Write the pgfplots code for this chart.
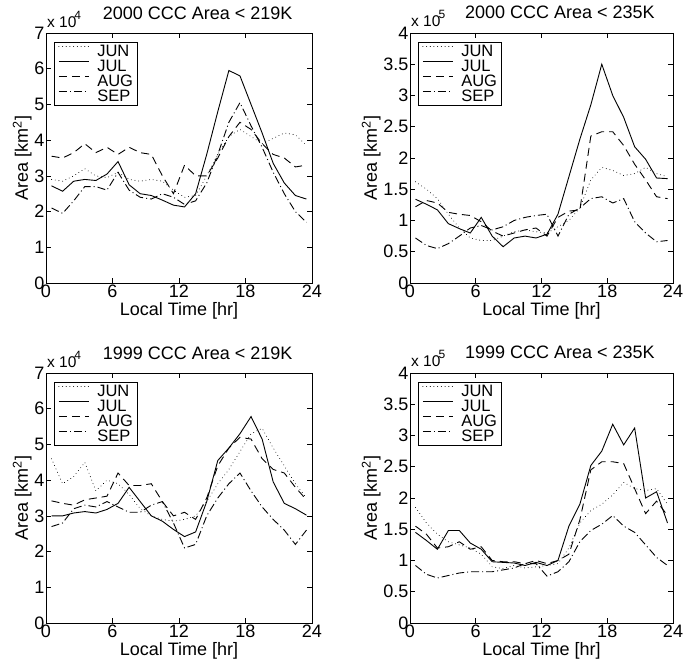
\documentclass[border=0pt]{standalone}
\usepackage{fontspec}
\setmainfont{Liberation Sans}
\usepackage{pgfplots}
\usepackage{pgfplotstable}
\pgfplotsset{compat=1.18}

\newcommand\fs{\fontsize{18}{19}\selectfont}
\newcommand\fl{\fontsize{16.5}{15}\selectfont}
\newcommand\fe{\fontsize{15.5}{15}\selectfont}

% 2000, area < 219K (x 10^4 km^2)
\pgfplotstableread{
t    jun  jul  aug  sep
0.5  2.9  2.72 3.55 2.1
1.5  2.85 2.57 3.5  1.95
2.5  3.0  2.85 3.65 2.3
3.5  3.2  2.9  3.9  2.7
4.5  3.0  2.87 3.65 2.7
5.5  2.95 3.05 3.8  2.6
6.5  3.1  3.4  3.6  3.1
7.5  2.9  2.75 3.8  2.6
8.5  2.85 2.5  3.65 2.4
9.5  2.9  2.45 3.6  2.35
10.5 2.85 2.32 3.0  2.5
11.5 2.6  2.18 2.5  2.4
12.5 2.4  2.13 3.3  2.2
13.5 2.45 2.5  3.0  2.3
14.5 3.0  3.6  3.0  2.8
15.5 3.6  4.8  3.5  3.6
16.5 4.1  5.95 4.1  4.5
17.5 4.3  5.8  4.5  5.05
18.5 4.1  5.0  4.3  4.4
19.5 3.9  4.2  3.9  3.8
20.5 4.05 3.35 3.6  3.1
21.5 4.2  2.8  3.5  2.5
22.5 4.15 2.45 3.25 2.0
23.5 3.85 2.35 3.3  1.7
}\tl

% 2000, area < 235K (x 10^5 km^2)
\pgfplotstableread{
t    jun  jul  aug  sep
0.5  1.62 1.34 1.22 0.72
1.5  1.5  1.26 1.32 0.6
2.5  1.35 1.17 1.28 0.55
3.5  1.1  0.95 1.13 0.63
4.5  0.88 0.87 1.1  0.75
5.5  0.72 0.8  1.08 0.88
6.5  0.68 1.05 0.98 0.92
7.5  0.68 0.75 0.83 0.85
8.5  0.75 0.58 0.75 0.9
9.5  0.82 0.72 0.8  1.0
10.5 0.85 0.75 0.85 1.05
11.5 0.82 0.72 0.88 1.08
12.5 0.8  0.78 0.75 1.1
13.5 0.9  1.1  1.05 0.75
14.5 1.0  1.7  1.15 1.1
15.5 1.2  2.3  1.17 1.2
16.5 1.65 2.85 2.35 1.35
17.5 1.85 3.5  2.42 1.38
18.5 1.8  3.0  2.42 1.28
19.5 1.72 2.65 2.2  1.35
20.5 1.75 2.18 1.9  0.98
21.5 1.85 1.98 1.65 0.8
22.5 1.75 1.68 1.38 0.66
23.5 1.7  1.67 1.35 0.68
}\tr

% 1999, area < 219K (x 10^4 km^2)
\pgfplotstableread{
t    jun  jul  aug  sep
0.5  4.6  3.0  3.42 2.7
1.5  3.9  3.0  3.35 2.8
2.5  4.1  3.08 3.3  3.2
3.5  4.5  3.12 3.45 3.3
4.5  3.7  3.08 3.5  3.25
5.5  4.0  3.18 3.55 3.4
6.5  3.9  3.35 4.2  3.25
7.5  3.6  3.8  3.85 3.1
8.5  3.2  3.4  3.85 3.1
9.5  3.0  3.0  3.9  3.3
10.5 2.9  2.85 3.4  3.4
11.5 2.85 2.62 3.0  2.8
12.5 2.9  2.42 3.1  2.1
13.5 3.0  2.55 2.9  2.2
14.5 3.4  3.4  3.5  3.0
15.5 3.9  4.55 4.4  3.5
16.5 4.3  4.9  4.9  3.9
17.5 4.8  5.3  5.2  4.2
18.5 5.3  5.78 5.15 3.7
19.5 5.45 5.15 4.6  3.25
20.5 4.9  3.95 4.3  2.9
21.5 4.4  3.35 4.2  2.6
22.5 3.9  3.2  3.8  2.2
23.5 3.5  3.02 3.45 2.6
}\bl

% 1999, area < 235K (x 10^5 km^2)
\pgfplotstableread{
t    jun  jul  aug  sep
0.5  1.85 1.45 1.55 0.92
1.5  1.6  1.32 1.42 0.78
2.5  1.42 1.18 1.2  0.72
3.5  1.3  1.48 1.22 0.76
4.5  1.25 1.48 1.3  0.8
5.5  1.2  1.28 1.18 0.82
6.5  1.1  1.18 1.22 0.82
7.5  0.9  0.98 1.0  0.82
8.5  0.87 0.97 0.98 0.85
9.5  0.92 0.96 0.98 0.88
10.5 0.88 0.92 0.95 0.95
11.5 0.9  0.97 1.0  0.95
12.5 0.92 0.92 0.95 0.75
13.5 0.95 1.0  1.0  0.82
14.5 1.2  1.55 1.1  0.98
15.5 1.6  1.9  1.65 1.3
16.5 1.8  2.52 2.45 1.48
17.5 1.9  2.75 2.58 1.58
18.5 2.05 3.18 2.58 1.72
19.5 2.25 2.85 2.55 1.55
20.5 2.15 3.12 2.15 1.45
21.5 2.12 2.0  1.75 1.25
22.5 2.15 2.1  1.95 1.05
23.5 1.9  1.6  1.72 0.92
}\br

\pgfplotsset{
  jun/.style={black, line width=0.9pt, line cap=round, dash pattern=on 0.1pt off 3.6pt},
  jul/.style={black, line width=0.9pt, solid},
  aug/.style={black, line width=0.9pt, dash pattern=on 8pt off 5pt},
  sep/.style={black, line width=0.9pt, dash pattern=on 8pt off 3pt on 1pt off 3pt},
  expo/.style={after end axis/.code={
    \node[anchor=base west, inner sep=0pt, font=\fe, xshift=1pt, yshift=6pt]
      at (rel axis cs:0,1) {x 10\kern-2pt\raisebox{8pt}{\fontsize{12}{12}\selectfont #1}};}},
  ccc/.style={
    anchor=south west, scale only axis, height=250pt,
    xmin=0, xmax=24, ymin=0, xtick={0,6,12,18,24},
    axis line style={line width=0.9pt},
    every tick/.style={black, line width=0.6pt},
    major tick length=5pt,
    tick label style={font=\fs},
    xticklabel style={inner sep=2pt},
    yticklabel style={inner sep=1.5pt},
    /pgf/number format/assume math mode=true,
    xlabel={Local Time [hr]}, ylabel={Area [km\textsuperscript{2}]},
    label style={font=\fs},
    xlabel style={inner sep=0pt, yshift=-2.5pt},
    ylabel style={inner sep=1pt},
    title style={font=\fs, at={(0.57,1)}, anchor=base, yshift=8pt, inner sep=0pt},
    legend style={at={(0,1)}, anchor=north west, xshift=8pt, yshift=-9pt,
      draw=black, line width=0.7pt, font=\fl, inner xsep=4pt, inner ysep=3pt,
      row sep=3pt, column sep=8pt,
      nodes={inner sep=0pt, text height=11.5pt, text depth=0.5pt},
      cells={anchor=west}},
    legend image code/.code={\draw[#1] (0pt,5pt) -- (30pt,5pt);},
  },
}

\begin{document}
\begin{tikzpicture}
\begin{axis}[ccc, at={(46pt,379pt)}, width=266pt, ymax=7, ytick={0,1,...,7},
  title={2000 CCC Area < 219K}, expo=4]
  \addplot[jun] table[x=t,y=jun]{\tl}; \addlegendentry{JUN}
  \addplot[jul] table[x=t,y=jul]{\tl}; \addlegendentry{JUL}
  \addplot[aug] table[x=t,y=aug]{\tl}; \addlegendentry{AUG}
  \addplot[sep] table[x=t,y=sep]{\tl}; \addlegendentry{SEP}
\end{axis}
\begin{axis}[ccc, at={(410pt,379pt)}, width=263pt, ymax=4, ytick={0,0.5,...,4},
  title={2000 CCC Area < 235K}, expo=5]
  \addplot[jun] table[x=t,y=jun]{\tr}; \addlegendentry{JUN}
  \addplot[jul] table[x=t,y=jul]{\tr}; \addlegendentry{JUL}
  \addplot[aug] table[x=t,y=aug]{\tr}; \addlegendentry{AUG}
  \addplot[sep] table[x=t,y=sep]{\tr}; \addlegendentry{SEP}
\end{axis}
\begin{axis}[ccc, at={(46pt,39pt)}, width=266pt, ymax=7, ytick={0,1,...,7},
  title={1999 CCC Area < 219K}, expo=4]
  \addplot[jun] table[x=t,y=jun]{\bl}; \addlegendentry{JUN}
  \addplot[jul] table[x=t,y=jul]{\bl}; \addlegendentry{JUL}
  \addplot[aug] table[x=t,y=aug]{\bl}; \addlegendentry{AUG}
  \addplot[sep] table[x=t,y=sep]{\bl}; \addlegendentry{SEP}
\end{axis}
\begin{axis}[ccc, at={(410pt,39pt)}, width=263pt, ymax=4, ytick={0,0.5,...,4},
  title={1999 CCC Area < 235K}, expo=5]
  \addplot[jun] table[x=t,y=jun]{\br}; \addlegendentry{JUN}
  \addplot[jul] table[x=t,y=jul]{\br}; \addlegendentry{JUL}
  \addplot[aug] table[x=t,y=aug]{\br}; \addlegendentry{AUG}
  \addplot[sep] table[x=t,y=sep]{\br}; \addlegendentry{SEP}
\end{axis}
\pgfresetboundingbox
\path[use as bounding box] (0pt,0pt) rectangle (685pt,662pt);
\end{tikzpicture}
\end{document}
